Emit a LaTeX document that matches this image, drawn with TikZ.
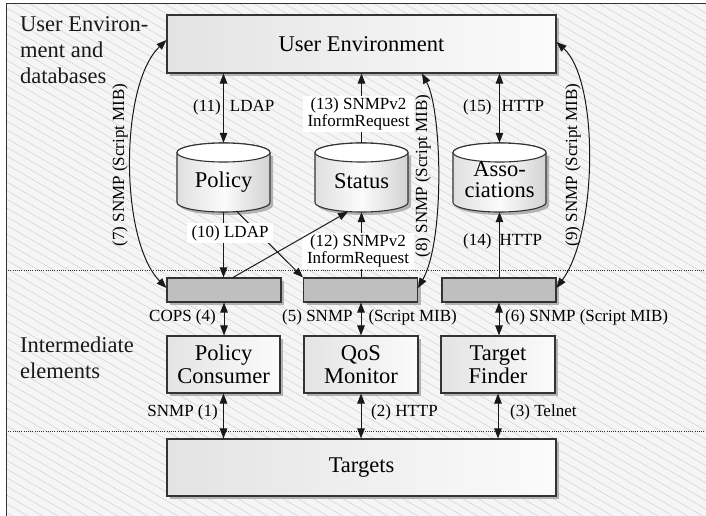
\documentclass[tikz,border=0pt]{standalone}
\usepackage{fontspec}
\setmainfont{Liberation Serif}
\usetikzlibrary{arrows.meta,shadows}
\newcommand\bigfont{\fontsize{22.5}{23}\selectfont}
\newcommand\cylfont{\fontsize{22.5}{21}\selectfont}
\newcommand\lblfont{\fontsize{17}{16.5}\selectfont}
% database cylinder: #1 name, #2 centre x
\newcommand\dbcyl[2]{%
  \begin{scope}[shift={(3pt,-3pt)}]
    \fill[gray!60] (#2-46.5,152.5) -- (#2-46.5,202.5)
      arc[start angle=180,end angle=360,x radius=46.5pt,y radius=9.5pt]
      -- (#2+46.5,152.5) -- cycle;
  \end{scope}
  \draw[cylline, left color=gray!25, right color=gray!35, middle color=gray!3]
    (#2-46.5,152.5) -- (#2-46.5,202.5)
    arc[start angle=180,end angle=360,x radius=46.5pt,y radius=9.5pt]
    -- (#2+46.5,152.5)
    arc[start angle=0,end angle=180,x radius=46.5pt,y radius=9.5pt] -- cycle;
  \draw[cylline, fill=white] (#2,152.5) ellipse[x radius=46.5pt, y radius=9.5pt];
  \node[cylbox] (#1) at (#2,177.5) {};
}
\begin{document}
\begin{tikzpicture}[x=1pt,y=-1pt,
  hatch/.style={gray!45, line width=0.35pt},
  sepline/.style={black!80, line width=0.7pt, dash pattern=on 0.8pt off 1.4pt},
  region/.style={font=\bigfont, align=left, inner sep=0pt, anchor=north west, text=black!90},
  mainbox/.style={draw=black!80, line width=1.1pt, left color=gray!22, right color=gray!3,
    drop shadow={shadow xshift=3pt, shadow yshift=-3pt, fill=gray!60, opacity=1},
    font=\bigfont, align=center, inner sep=0pt},
  gbox/.style={draw=black!80, line width=1.1pt, fill=gray!50,
    drop shadow={shadow xshift=3pt, shadow yshift=-3pt, fill=gray!60, opacity=1},
    minimum width=114pt, minimum height=24pt, inner sep=0pt},
  cylline/.style={draw=black!80, line width=1.1pt},
  cylbox/.style={minimum width=93pt, minimum height=69pt, inner sep=0pt},
  cyltxt/.style={font=\cylfont, align=center, inner sep=0pt},
  lbl/.style={font=\lblfont, inner sep=0pt},
  wlbl/.style={font=\lblfont, fill=white, align=center, inner xsep=5pt, inner ysep=2pt},
  arr/.style={line width=1pt, draw=black!90, -{Triangle[length=10pt,width=7.5pt]}},
  dbl/.style={line width=1pt, draw=black!90, {Triangle[length=10pt,width=7.5pt]}-{Triangle[length=10pt,width=7.5pt]}}
]
\useasboundingbox (0,0) rectangle (706,516);
% background
\fill[gray!8] (6,4) rectangle (706,516);
\begin{scope}
  \clip (6,4) rectangle (706,516);
  \foreach \i in {-60,...,47} \draw[hatch] (\i*15,4) -- ++(900,522);
\end{scope}
\draw[black!80, line width=1pt] (6,516) -- (6,4) -- (706,4);
% layer separators
\draw[sepline] (6,270) -- (706,270);
\draw[sepline] (6,431) -- (706,431);
% region titles
\node[region] (r1) at (20,16) {User Environ-\\[3pt]ment and\\[3pt]databases};
\node[region] (r2) at (20,337) {Intermediate\\[3pt]elements};
% boxes
\node[mainbox, minimum width=389pt, minimum height=58pt] (ue) at (361.5,44) {User Environment};
\node[mainbox, minimum width=389pt, minimum height=57pt] (tg) at (361.5,467.5) {Targets};
\node[gbox] (b1) at (224,290) {};
\node[gbox] (b2) at (360.5,290) {};
\node[gbox] (b3) at (499,290) {};
\node[mainbox, minimum width=113pt, minimum height=57pt] (pc) at (223.5,364.5) {Policy\\Consumer};
\node[mainbox, minimum width=114pt, minimum height=57pt] (qos) at (361,364.5) {QoS\\Monitor};
\node[mainbox, minimum width=114pt, minimum height=57pt] (tf) at (498,364.5) {Target\\Finder};
% databases
\dbcyl{pol}{223.5}
\dbcyl{sta}{361.5}
\dbcyl{aso}{499.5}
\node[cyltxt, anchor=base] (pol-t) at (223.5,187) {Policy};
\node[cyltxt, anchor=base] (sta-t) at (361.5,188) {Status};
\node[cyltxt] (aso-t) at (499.5,180) {Asso-\\ciations};
% top connectors
\draw[dbl] (pol.north |- ue.south) -- (pol.north);
\node[lbl, anchor=west] (l11) at (193,107) {(11)\hspace{9pt}LDAP};
\draw[arr] (sta.north) -- (sta.north |- ue.south);
\node[wlbl] (l13) at (358.5,114) {(13) SNMPv2\\InformRequest};
\draw[dbl] (aso.north |- ue.south) -- (aso.north);
\node[lbl, anchor=west] (l15) at (463,107) {(15)\hspace{10pt}HTTP};
% curved Script MIB connectors
\draw[dbl] ([yshift=2pt]b1.west) .. controls +(-47,-48) and +(-47,45) .. ([yshift=4pt]ue.west);
\node[lbl, rotate=90] (l7) at (120,165) {(7) SNMP (Script MIB)};
\draw[dbl] ([xshift=60.5pt]ue.south) .. controls +(20,37) and +(27,-48) .. ([yshift=2pt]b2.east);
\node[lbl, rotate=90] (l8) at (423,176) {(8) SNMP (Script MIB)};
\draw[dbl] ([yshift=2pt]ue.east) .. controls +(42,38) and +(42,-58) .. ([yshift=2pt]b3.east);
\node[lbl, rotate=90] (l9) at (573,165) {(9) SNMP (Script MIB)};
% database to intermediate
\draw[arr] (pol.south) -- (pol.south |- b1.north);
\draw[arr] ([shift={(13,-1)}]pol.south) -- (b2.north west);
\node[wlbl] (l10) at (230,233) {(10) LDAP};
\draw[arr] (sta.south |- b2.north) -- (sta.south);
\node[wlbl] (l12) at (358,251) {(12) SNMPv2\\InformRequest};
\draw[arr] ([xshift=9pt]b1.north) -- ([shift={(-13.5,-0.5)}]sta.south);
\draw[arr] (aso.south |- b3.north) -- (aso.south);
\node[lbl, anchor=west] (l14) at (463,241) {(14)\hspace{8pt}HTTP};
% intermediate to elements
\draw[dbl] (b1.south) -- (b1.south |- pc.north);
\node[lbl, anchor=east] (l4) at (216,317) {COPS (4)};
\draw[dbl] (qos.north |- b2.south) -- (qos.north);
\node[lbl, anchor=west] (l5) at (282,317) {(5) SNMP\hspace{16pt}(Script MIB)};
\draw[dbl] (b3.south) -- (b3.south |- tf.north);
\node[lbl, anchor=west] (l6) at (505,317) {(6) SNMP (Script MIB)};
% elements to targets
\draw[dbl] (pc.south) -- (pc.south |- tg.north);
\node[lbl, anchor=east] (l1) at (218,412) {SNMP (1)};
\draw[dbl] (qos.south) -- (qos.south |- tg.north);
\node[lbl, anchor=west] (l2) at (371,412) {(2) HTTP};
\draw[dbl] (tf.south) -- (tf.south |- tg.north);
\node[lbl, anchor=west] (l3) at (510,412) {(3) Telnet};
\end{tikzpicture}
\end{document}
